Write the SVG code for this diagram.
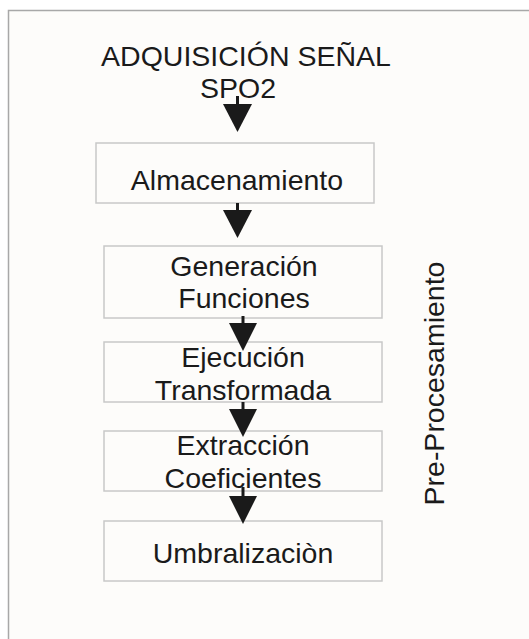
<svg xmlns="http://www.w3.org/2000/svg" width="529" height="639" viewBox="0 0 529 639">
<style>
.box{fill:#fdfcfa;stroke:#c8c8c8;stroke-width:1.5}
.t{font-family:"Liberation Sans",Arial,sans-serif;font-size:28.5px;fill:#1a1a1a;text-anchor:middle}
.shaft{stroke:#1a1a1a;stroke-width:3}
.head{fill:#1a1a1a}
</style>
<rect x="0" y="0" width="529" height="639" fill="#ffffff"/>
<rect id="frame" x="8.5" y="10.5" width="540" height="650" fill="#fdfcfa" stroke="#a8a8a8" stroke-width="1.5"/>
<g id="title">
<text class="t" x="246" y="66">ADQUISICIÓN SEÑAL</text>
<text class="t" x="238" y="98">SPO2</text>
</g>
<g id="n1"><rect class="box" x="96" y="143" width="278" height="60"/><text class="t" x="237" y="190">Almacenamiento</text></g>
<g id="n2"><rect class="box" x="104" y="246" width="278" height="72"/><text class="t" x="244" y="276">Generación</text><text class="t" x="244" y="308">Funciones</text></g>
<g id="n3"><rect class="box" x="104" y="342" width="278" height="60"/><text class="t" x="243" y="367">Ejecución</text><text class="t" x="243" y="400">Transformada</text></g>
<g id="n4"><rect class="box" x="104" y="431" width="278" height="60"/><text class="t" x="243" y="455">Extracción</text><text class="t" x="243" y="488">Coeficientes</text></g>
<g id="n5"><rect class="box" x="104" y="521" width="278" height="60"/><text class="t" x="243" y="563">Umbralizaciòn</text></g>
<g id="label"><text class="t" transform="translate(444,383.5) rotate(-90)" x="0" y="0">Pre-Procesamiento</text></g>
<g id="connectors">
<line class="shaft" x1="237.5" y1="96" x2="237.5" y2="105"/><polygon class="head" points="223,104 252,104 237.5,132"/>
<line class="shaft" x1="237.5" y1="203" x2="237.5" y2="211"/><polygon class="head" points="223,210 252,210 237.5,238"/>
<line class="shaft" x1="243" y1="316" x2="243" y2="324"/><polygon class="head" points="229,323 257,323 243,351"/>
<line class="shaft" x1="243" y1="402" x2="243" y2="410"/><polygon class="head" points="229,409 257,409 243,437"/>
<line class="shaft" x1="243" y1="487" x2="243" y2="497"/><polygon class="head" points="229,496 257,496 243,524"/>
</g>
</svg>
